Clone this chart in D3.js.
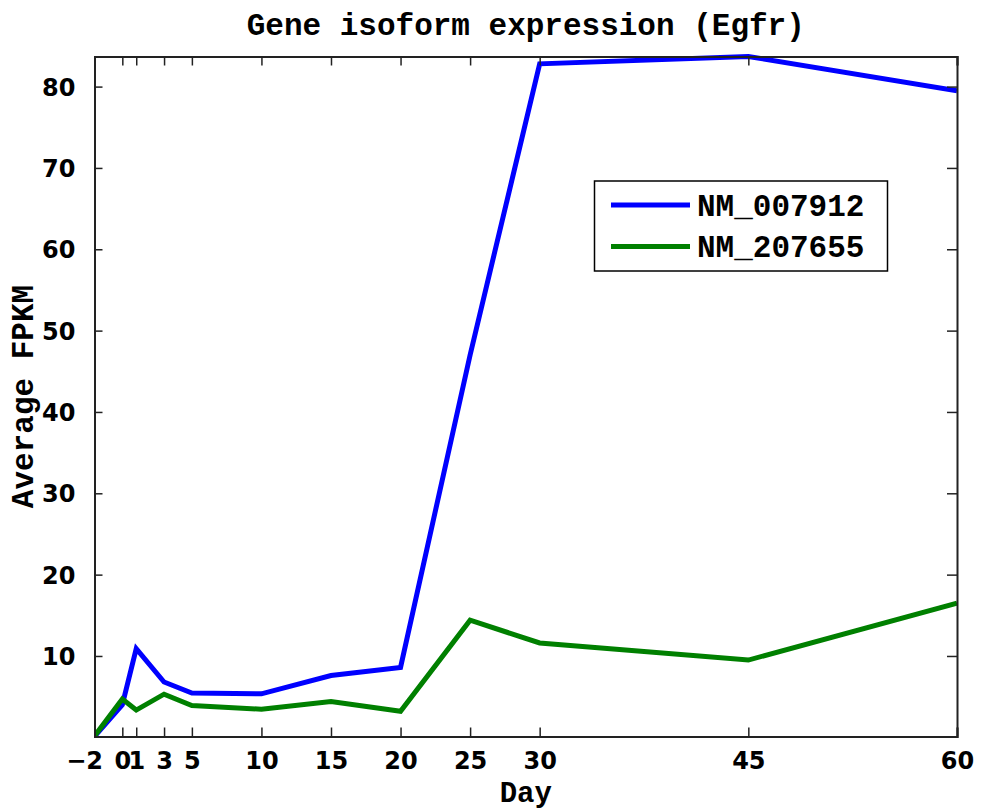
<!DOCTYPE html>
<html>
<head>
<meta charset="utf-8">
<script src="https://cdn.jsdelivr.net/npm/d3@7"></script>
<style>
html,body{margin:0;padding:0;background:#fff;}
svg{display:block;}
</style>
</head>
<body>
<script>
const days = [-2, 0, 1, 3, 5, 10, 15, 20, 25, 30, 45, 60];
const nm007912 = [0.1, 4.0, 10.9, 6.8, 5.45, 5.35, 7.6, 8.6, 47.0, 82.8, 83.7, 79.5];
const nm207655 = [0.15, 4.7, 3.35, 5.3, 3.9, 3.45, 4.4, 3.2, 14.4, 11.6, 9.5, 16.5];
const seriesNames = ["NM_007912", "NM_207655"];
const seriesColors = ["#0000ff", "#008000"];
const xTicks = [-2, 0, 1, 3, 5, 10, 15, 20, 25, 30, 45, 60];
const yTicks = [10, 20, 30, 40, 50, 60, 70, 80];
const titleText = "Gene isoform expression (Egfr)";
const xLabel = "Day";
const yLabel = "Average FPKM";

const W = 981, H = 812;
const m = {left: 94.5, right: 957, top: 56.5, bottom: 736.5};
const mono = "'Liberation Mono','Courier New',monospace";
const sans = "'DejaVu Sans',sans-serif";

const svg = d3.select("body").append("svg").attr("width", W).attr("height", H);

const x = d3.scaleLinear().domain([-2, 60]).range([m.left, m.right]);
const allVals = nm007912.concat(nm207655);
const y = d3.scaleLinear().domain(d3.extent(allVals)).range([m.bottom, m.top]);

// lines
const series = [nm007912, nm207655];
const line = d3.line().x((d, i) => x(days[i])).y(d => y(d));
svg.append("clipPath").attr("id", "c").append("rect")
  .attr("x", m.left).attr("y", m.top - 3).attr("width", m.right - m.left).attr("height", m.bottom - m.top + 3);
series.forEach((s, k) => {
  svg.append("path").datum(s).attr("d", line)
    .attr("fill", "none").attr("stroke", seriesColors[k]).attr("stroke-width", 5)
    .attr("stroke-linejoin", "miter").attr("clip-path", "url(#c)");
});

// axes (ticks inward)
const tickLen = 9;
const axStroke = "#222";
const gB = svg.append("g").attr("transform", `translate(0,${m.bottom})`)
  .call(d3.axisBottom(x).tickValues(xTicks).tickSize(-tickLen).tickPadding(15)
    .tickFormat(d => d < 0 ? "\u2212" + Math.abs(d) : d));
const gT = svg.append("g").attr("transform", `translate(0,${m.top})`)
  .call(d3.axisTop(x).tickValues(xTicks).tickSize(-tickLen).tickFormat(""));
const gL = svg.append("g").attr("transform", `translate(${m.left},0)`)
  .call(d3.axisLeft(y).tickValues(yTicks).tickSize(-8).tickPadding(19));
const gR = svg.append("g").attr("transform", `translate(${m.right},0)`)
  .call(d3.axisRight(y).tickValues(yTicks).tickSize(-10).tickFormat(""));
[gB, gT, gL, gR].forEach(g => {
  g.select(".domain").attr("stroke", axStroke).attr("stroke-width", 2);
  g.selectAll(".tick line").attr("stroke", axStroke).attr("stroke-width", 1.5);
  g.selectAll("text").attr("font-family", sans).attr("font-weight", "bold")
    .attr("font-size", 24).attr("fill", "#000");
});
gB.selectAll("text").attr("dy", "0.71em");
// negative label: digit sits on the tick, minus hangs left
gB.selectAll(".tick").filter(d => d < 0).select("text")
  .attr("text-anchor", "end").attr("x", 8);
gL.selectAll("text").attr("dy", "0.36em");

// titles
svg.append("text").attr("x", (m.left + m.right) / 2).attr("y", 35)
  .attr("text-anchor", "middle").attr("font-family", mono).attr("font-weight", "bold")
  .attr("font-size", 31).text(titleText);
svg.append("text").attr("x", (m.left + m.right) / 2).attr("y", 802)
  .attr("text-anchor", "middle").attr("font-family", mono).attr("font-weight", "bold")
  .attr("font-size", 29).text(xLabel);
svg.append("text").attr("transform", `translate(33,${(m.top + m.bottom) / 2}) rotate(-90)`)
  .attr("text-anchor", "middle").attr("font-family", mono).attr("font-weight", "bold")
  .attr("font-size", 31).text(yLabel);

// legend
const lg = svg.append("g");
lg.append("rect").attr("x", 594.5).attr("y", 181).attr("width", 293).attr("height", 90)
  .attr("fill", "#fff").attr("stroke", "#000").attr("stroke-width", 1.5);
seriesNames.forEach((n, k) => {
  const yy = 205 + k * 41.5;
  lg.append("line").attr("x1", 611).attr("x2", 690).attr("y1", yy).attr("y2", yy)
    .attr("stroke", seriesColors[k]).attr("stroke-width", 5);
  lg.append("text").attr("x", 697).attr("y", yy).attr("dy", "0.35em")
    .attr("font-family", mono).attr("font-weight", "bold").attr("font-size", 31).text(n);
});
</script>
</body>
</html>
